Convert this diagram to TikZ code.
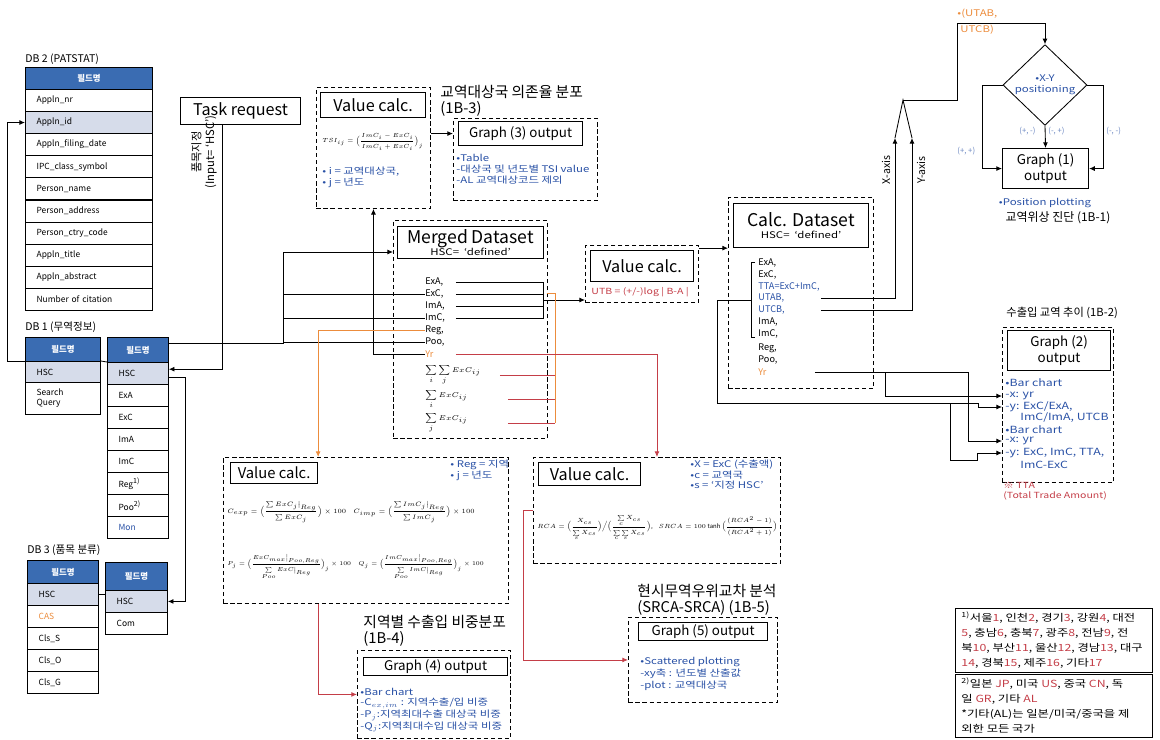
\documentclass[tikz,border=0pt]{standalone}
\usepackage{fontspec}
\usepackage{amsmath}
\usepackage{graphicx}
\setmainfont{Noto Sans CJK KR}
\newfontfamily\wfont[FakeStretch=1.25]{Noto Sans CJK KR}
\usetikzlibrary{shapes.geometric,arrows.meta}
\definecolor{hdrblue}{RGB}{58,108,178}
\definecolor{hiblue}{RGB}{214,220,234}
\definecolor{txtblue}{RGB}{40,80,165}
\definecolor{ornge}{RGB}{236,140,60}
\definecolor{redln}{RGB}{196,62,72}
\newcommand{\fbig}{\fontsize{11.5}{12.5}\selectfont}
\newcommand{\fds}{\fontsize{12.5}{13.5}\selectfont}
\newcommand{\fgr}{\fontsize{9.5}{11}\selectfont}
\newcommand{\fttl}{\fontsize{10.5}{11}\selectfont}
\newcommand{\fdb}{\fontsize{7.5}{9}\selectfont}
\newcommand{\fcell}{\fontsize{6}{7}\selectfont}
\newcommand{\fnote}{\wfont\fontsize{6.5}{8}\selectfont}
\newcommand{\fgtwo}{\wfont\fontsize{7}{8}\selectfont}
\newcommand{\fitem}{\fontsize{6.5}{7.5}\selectfont}
\newcommand{\fmath}{\fontsize{5}{6}\selectfont}
\newcommand{\fform}{\fontsize{5}{6}\selectfont}
\newcommand{\fnb}{\wfont\fontsize{7}{10.6}\selectfont}
\newcommand{\rn}[1]{\textcolor{redln}{#1}}
\newcommand{\shrink}[2][0.85]{\scalebox{#1}{#2}}
\begin{document}
\begin{tikzpicture}[
    x=0.025cm, y=-0.025cm,
    line width=0.6pt,
    hdr/.style={draw, fill=hdrblue, text=white, font=\fcell\bfseries, anchor=north west, inner sep=0pt},
    cell/.style={draw, fill=white, font=\fcell, anchor=north west, inner xsep=0.28cm, inner ysep=0pt, text width=#1, align=left, minimum height=0.55cm},
    dbox/.style={draw, dash pattern=on 3pt off 2pt, anchor=north west, inner sep=0pt},
    sbox/.style={draw, line width=0.8pt, anchor=north west, inner sep=0pt, align=center},
    ttl/.style={font=\fttl, anchor=north west, inner sep=0pt, align=left},
    note/.style={font=\fnote, text=txtblue, anchor=west, inner sep=0pt, align=left},
    gnote/.style={note, font=\fgtwo},
    quad/.style={font=\fontsize{5.5}{6}\selectfont, text=txtblue!70, anchor=west, inner sep=0pt},
    item/.style={font=\fitem, anchor=west, inner sep=0pt, text width=#1},
    item/.default=0.75cm,
    frm/.style={font=\fform, anchor=west, inner sep=0pt},
    arr/.style={-{Latex[length=4pt,width=3.5pt]}},
]
\useasboundingbox (0,0) rectangle (1160,739);

% DB 2 (PATSTAT)
\node[font=\fdb, anchor=west, inner sep=0pt] (db2t) at (25,59) {DB 2 (PATSTAT)};
\node[hdr, minimum width=3.175cm, minimum height=0.55cm] (pathd) at (25,67) {필드명};
\foreach \lbl/\fc [count=\i from 0] in {Appln\_nr/white, Appln\_id/hiblue, Appln\_filing\_date/white, IPC\_class\_symbol/white, Person\_name/white, Person\_address/white, Person\_ctry\_code/white, Appln\_title/white, Appln\_abstract/white, Number of citation/white}
  \node[cell=2.615cm, fill=\fc] (pat\i) at (25,{89+22.1*\i}) {\lbl};

% DB 1 (trade data)
\node[font=\fdb, anchor=west, inner sep=0pt] (db1t) at (25,327) {DB 1 (무역정보)};
\node[hdr, minimum width=1.875cm, minimum height=0.6cm] (lhd) at (25,337) {필드명};
\node[cell=1.315cm, fill=hiblue, minimum height=0.525cm] (lhsc) at (25,361) {HSC};
\node[cell=1.315cm, minimum height=0.8cm] (lsq) at (25,382) {Search\\Query};
\node[hdr, minimum width=1.525cm, minimum height=0.625cm] (rhd) at (107,337) {필드명};
\foreach \lbl/\fc [count=\i from 0] in {HSC/hiblue, ExA/white, ExC/white, ImA/white, ImC/white, Reg\textsuperscript{1)}/white, Poo\textsuperscript{2)}/white, \textcolor{txtblue}{Mon}/white}
  \node[cell=0.965cm, fill=\fc] (tr\i) at (107,{362+22*\i}) {\lbl};

% DB 3 (item classes)
\node[font=\fdb, anchor=west, inner sep=0pt] (db3t) at (27,550) {DB 3 (품목 분류)};
\node[hdr, minimum width=1.775cm, minimum height=0.575cm] (chd) at (27,560) {필드명};
\foreach \lbl/\fc [count=\i from 0] in {HSC/hiblue, \textcolor{ornge}{CAS}/white, Cls\_S/white, Cls\_O/white, Cls\_G/white}
  \node[cell=1.215cm, fill=\fc] (cl\i) at (27,{583+22*\i}) {\lbl};
\node[hdr, minimum width=1.55cm, minimum height=0.7cm] (mhd) at (105,562) {필드명};
\node[cell=0.99cm, fill=hiblue] (cm0) at (105,590) {HSC};
\node[cell=0.99cm] (cm1) at (105,612) {Com};

% Task request
\node[sbox, minimum width=3cm, minimum height=0.675cm, font=\fbig] (task) at (180,97) {Task request};
\node[font=\fontsize{8}{9.5}\selectfont, rotate=90, align=center, inner sep=0pt] (inlbl) at (204,152) {품목지정\\(Input= ‘HSC’)};

% Value calc. (TSI)
\node[dbox, minimum width=2.85cm, minimum height=3.025cm] (vc1) at (316,87) {};
\node[sbox, minimum width=2.625cm, minimum height=0.625cm, font=\fbig] (vc1t) at (320,92) {Value calc.};
\node[frm] (tsi) at (322,142) {\shrink[0.84]{$TSI_{ij}=\Big(\dfrac{ImC_i-ExC_i}{ImC_i+ExC_i}\Big)_j$}};
\node[note] (vc1n1) at (322,172) {• i = 교역대상국,};
\node[note] (vc1n2) at (322,183) {• j = 년도};

% Graph (3)
\node[ttl] (g3ttl) at (440,85) {교역대상국 의존율 분포\\(1B-3)};
\node[dbox, minimum width=3.6cm, minimum height=2.05cm] (g3) at (453,118) {};
\node[sbox, minimum width=3.1cm, minimum height=0.6cm, font=\fgr] (g3t) at (458,121) {Graph (3) output};
\node[note] (g3n1) at (456,158) {•Table};
\node[note] (g3n2) at (456,169) {-대상국 및 년도별 TSI value};
\node[note] (g3n3) at (456,180) {-AL 교역대상코드 제외};

% Merged Dataset
\node[dbox, minimum width=3.85cm, minimum height=5.45cm] (mg) at (393,220) {};
\node[sbox, minimum width=3.65cm, minimum height=0.8cm] (mgt) at (397,226) {{\fds Merged Dataset}\\[-3pt]{\fnote HSC=\ \ ‘defined’}};
\node[item] (exa) at (425,282) {ExA,};
\node[item] (exc) at (425,294) {ExC,};
\node[item] (ima) at (425,306) {ImA,};
\node[item] (imc) at (425,318) {ImC,};
\node[item] (reg) at (425,330) {Reg,};
\node[item] (poo) at (425,342) {Poo,};
\node[item, text=ornge] (yr) at (425,354) {Yr};
\node[item=1.85cm, font=\fmath] (s1) at (425,375) {$\displaystyle\sum_{i}\sum_{j} ExC_{ij}$};
\node[item=2.05cm, font=\fmath] (s2) at (425,399) {$\displaystyle\sum_{i} ExC_{ij}$};
\node[item=2.05cm, font=\fmath] (s3) at (425,423) {$\displaystyle\sum_{j} ExC_{ij}$};

% Value calc. (UTB)
\node[dbox, minimum width=2.825cm, minimum height=1.425cm] (utb) at (585,245) {};
\node[sbox, minimum width=2.575cm, minimum height=0.775cm, font=\fbig] (utbt) at (590,250) {Value calc.};
\node[note, text=redln, font=\wfont\fontsize{6}{7}\selectfont] (utbf) at (591,292) {UTB = (+/-)log | B-A |};

% Calc. Dataset
\node[dbox, minimum width=3.625cm, minimum height=4.775cm] (cd) at (728,197) {};
\node[sbox, minimum width=3.375cm, minimum height=1.1cm] (cdt) at (733,203) {{\fds Calc. Dataset}\\[-3pt]{\fnote HSC=\ \ ‘defined’}};
\node[item] (cexa) at (758,263) {ExA,};
\node[item] (cexc) at (758,275) {ExC,};
\node[item=1.55cm, text=txtblue] (ctta) at (758,287) {TTA=ExC+ImC,};
\node[item=1.55cm, text=txtblue] (cutab) at (758,298) {UTAB,};
\node[item=1.55cm, text=txtblue] (cutcb) at (758,310) {UTCB,};
\node[item] (cima) at (758,322) {ImA,};
\node[item] (cimc) at (758,334) {ImC,};
\node[item] (creg) at (758,348) {Reg,};
\node[item] (cpoo) at (758,360) {Poo,};
\node[item=1.4cm, text=ornge] (cyr) at (758,372) {Yr};

% Graph (1)
\node[diamond, draw, minimum width=2.1cm, minimum height=1.65cm, font=\fnote, text=txtblue, inner sep=0pt, align=center] (xy) at (1045,85) {•X-Y\\positioning};
\node[sbox, minimum width=2.15cm, minimum height=1cm, font=\fgr] (g1t) at (1002,148) {Graph (1)\\output};
\node[note, anchor=center] (g1n) at (1045,203) {•Position plotting};
\node[font=\fontsize{8.5}{9}\selectfont, inner sep=0pt] (g1ttl) at (1058,218) {교역위상 진단 (1B-1)};
\node[note, text=ornge, anchor=north west] (utl1) at (957,9) {•(UTAB,};
\node[note, text=ornge, anchor=north west] (utl2) at (960,25) {UTCB)};
\node[font=\fontsize{7.5}{8}\selectfont, rotate=90, inner sep=0pt] (xax) at (886,170) {X-axis};
\node[font=\fontsize{7.5}{8}\selectfont, rotate=90, inner sep=0pt] (yax) at (921,170) {Y-axis};
\node[quad] (q1) at (957,151) {(+, +)};
\node[quad] (q2) at (1019,131) {(+, -)};
\node[quad] (q3) at (1048,131) {(-, +)};
\node[quad] (q4) at (1106,131) {(-, -)};

% Graph (2)
\node[ttl, font=\fontsize{8}{9}\selectfont] (g2ttl) at (1006,307) {수출입 교역 추이 (1B-2)};
\node[dbox, minimum width=2.775cm, minimum height=3.875cm] (g2) at (1002,327) {};
\node[sbox, minimum width=2.575cm, minimum height=1cm, font=\fgr] (g2t) at (1007,330) {Graph (2)\\output};
\node[gnote] (g2n1) at (1005,383) {•Bar chart};
\node[gnote] (g2x1) at (1005,396) {-x: yr};
\node[gnote] (g2y1) at (1005,407) {-y: ExC/ExA,};
\node[gnote] (g2y1b) at (1020,418) {ImC/ImA, UTCB};
\node[gnote] (g2n2) at (1005,430) {•Bar chart};
\node[gnote] (g2x2) at (1005,441) {-x: yr};
\node[gnote] (g2y2) at (1005,453) {-y: ExC, ImC, TTA,};
\node[gnote] (g2y2b) at (1020,465) {ImC-ExC};
\node[note, text=redln, font=\wfont\fontsize{6}{7}\selectfont] (tta) at (1003,491) {※ TTA\\(Total Trade Amount)};

% Value calc. (regional shares)
\node[dbox, minimum width=7.125cm, minimum height=3.65cm] (bl) at (223,457) {};
\node[sbox, minimum width=2.175cm, minimum height=0.525cm, font=\fontsize{10.5}{11}\selectfont] (blt) at (230,462) {Value calc.};
\node[note] (bln1) at (450,465) {• Reg = 지역};
\node[note] (bln2) at (450,476) {• j = 년도};
\node[frm] (cexp) at (227,512) {\shrink[0.9]{$C_{exp}=\Big(\dfrac{\sum ExC_j\big|_{Reg}}{\sum ExC_j}\Big)\times 100$}};
\node[frm] (cimp) at (353,512) {\shrink[0.9]{$C_{imp}=\Big(\dfrac{\sum ImC_j\big|_{Reg}}{\sum ImC_j}\Big)\times 100$}};
\node[frm] (pj) at (227,567) {\shrink[0.82]{$P_j=\Big(\dfrac{ExC_{max}\big|_{Poo,Reg}}{\sum\limits_{Poo} ExC\big|_{Reg}}\Big)_j\times 100$}};
\node[frm] (qj) at (358,567) {\shrink[0.82]{$Q_j=\Big(\dfrac{ImC_{max}\big|_{Poo,Reg}}{\sum\limits_{Poo} ImC\big|_{Reg}}\Big)_j\times 100$}};

% Graph (4)
\node[ttl] (g4ttl) at (363,615) {지역별 수출입 비중분포\\(1B-4)};
\node[dbox, minimum width=3.825cm, minimum height=2.2cm] (g4) at (357,650) {};
\node[sbox, minimum width=3.6cm, minimum height=0.45cm, font=\fgr] (g4t) at (363,657) {Graph (4) output};
\node[note] (g4n1) at (360,692) {•Bar chart};
\node[note] (g4n2) at (360,703) {-C$_{ex,im}$ : 지역수출/입 비중};
\node[note] (g4n3) at (360,715) {-P$_j$:지역최대수출 대상국 비중};
\node[note] (g4n4) at (360,727) {-Q$_j$:지역최대수입 대상국 비중};

% Value calc. (SRCA)
\node[dbox, minimum width=6.175cm, minimum height=2.65cm] (sr) at (533,457) {};
\node[sbox, minimum width=2.55cm, minimum height=0.575cm, font=\fbig] (srt) at (538,462) {Value calc.};
\node[note] (srn1) at (690,465) {•X = ExC (수출액)};
\node[note] (srn2) at (690,475) {•c = 교역국};
\node[note] (srn3) at (690,485) {•s = ‘지정 HSC’};
\node[frm] (rca) at (537,528) {\shrink{$RCA=\Big(\dfrac{X_{cs}}{\sum\limits_{s} X_{cs}}\Big)\Big/\Big(\dfrac{\sum\limits_{c} X_{cs}}{\sum\limits_{c}\sum\limits_{s} X_{cs}}\Big)$,\quad $SRCA=100\tanh\Big(\dfrac{(RCA^2-1)}{(RCA^2+1)}\Big)$}};

% Graph (5)
\node[ttl] (g5ttl) at (637,584) {현시무역우위교차 분석\\(SRCA-SRCA) (1B-5)};
\node[dbox, minimum width=3.725cm, minimum height=2.125cm] (g5) at (628,617) {};
\node[sbox, minimum width=3.225cm, minimum height=0.45cm, font=\fgr] (g5t) at (638,622) {Graph (5) output};
\node[note] (g5n1) at (640,662) {•Scattered plotting};
\node[note] (g5n2) at (640,674) {-xy축 : 년도별 산출값};
\node[note] (g5n3) at (640,686) {-plot : 교역대상국};

% Footnote boxes
\node[draw, anchor=north west, minimum width=4.925cm, minimum height=1.6cm] (nb1) at (955,608) {};
\node[font=\fnb, anchor=north west, align=left, inner sep=0pt] (nb1t) at (961,611) {\textsuperscript{1)}서울\rn{1}, 인천\rn{2}, 경기\rn{3}, 강원\rn{4}, 대전\\\rn{5}, 충남\rn{6}, 충북\rn{7}, 광주\rn{8}, 전남\rn{9}, 전\\북\rn{10}, 부산\rn{11}, 울산\rn{12}, 경남\rn{13}, 대구\\\rn{14}, 경북\rn{15}, 제주\rn{16}, 기타\rn{17}};
\node[draw, anchor=north west, minimum width=4.925cm, minimum height=1.575cm] (nb2) at (955,674) {};
\node[font=\fnb, anchor=north west, align=left, inner sep=0pt] (nb2t) at (961,677) {\textsuperscript{2)}일본 \rn{JP}, 미국 \rn{US}, 중국 \rn{CN}, 독\\일 \rn{GR}, 기타 \rn{AL}\\*기타(AL)는 일본/미국/중국을 제\\외한 모든 국가};

% Junctions
\coordinate (bus) at (283,252);
\coordinate (brk) at (543,300);
\coordinate (obus) at (555,293);
\coordinate (cbm) at (751,300);
\coordinate (yb) at (978,403);
\coordinate (yb2) at (950,403);
\coordinate (yrb) at (885,372);
\coordinate (yrd) at (968,441);
\coordinate (xtip) at (895,138);
\coordinate (ytip) at (912,138);
\coordinate (apex) at (903,100);
\coordinate (ut) at (957,23);

% DB links
\draw[arr] (lhsc.north west) -- ++(-18,0) |- (pat1.west);
\draw (lhsc.north east) -- (tr0.north west);
\draw (cl0.east) -- (cl0.east -| cm0.west);
\draw[arr] ([yshift=-3pt]tr0.east) -- ++(17,0) |- (cm0.east);
\draw[arr] ([xshift=-12.8pt]task.south) |- ([yshift=3pt]tr0.east);
\draw[arr] ([yshift=4.6pt]rhd.east) -| (bus) -- (bus -| mg.west);
\draw (bus |- exc.west) -- (exc.west);
\draw (bus |- imc.west) -- (imc.west);
\draw (bus |- poo.west) -- (poo.west);

% Merged Dataset outputs
\draw[arr] (yr.west) -| (vc1.south);
\draw[arr, ornge] (reg.west) -| (bl.north -| blt.east);
\draw[arr] (vc1.east |- g3t.west) -- (g3t.west -| g3.west);
\foreach \n in {exa,exc,ima,imc} \draw (\n.east) -| (brk);
\draw[arr] (brk) -- (brk -| utb.west);
\draw[ornge] ([xshift=-6pt]obus) -- (obus) -- (obus |- s3.east);
\foreach \n in {s1,s2,s3} \draw[redln] (\n.east) -- (\n.east -| obus);
\draw[arr, redln] (yr.east) -| (sr.north);
\draw[arr, redln] (bl.south -| blt.east) |- (g4.west);
\draw[arr, redln] (sr.west) -- ++(-10,0) |- (g5.west);
\draw[arr] (utb.north east |- cdt.south) -- (cdt.south -| cd.west);

% Calc. Dataset outputs
\draw (cbm) ++(4,-38) -- ++(-4,0) -- ++(0,75) -- ++(4,0);
\draw[arr] (cbm) -- ++(-34,0) |- (yb) |- (g2y1.west -| g2.west);
\draw[arr] (yb2) |- ++(27,57) |- (g2y2.west -| g2.west);
\draw[arr] (cyr.east) -| (yrd) -- (g2x2.west -| g2.west);
\draw[arr] (yrb) |- (g2x1.west -| g2.west);
\draw[arr] (cutab.east) -| (xtip);
\draw[arr] (cutcb.east) -| (ytip);
\draw (xtip) -- (apex) -- (ytip);
\draw[arr] (apex) -| (ut) -| (xy.north);

% Graph (1) branches
\draw[arr] (xy.west) -- ++(-20,0) |- (g1t.west);
\draw[arr] (xy.east) -- ++(16,0) |- (g1t.east);
\draw[arr] (xy.south) -- (g1t.north);
\end{tikzpicture}
\end{document}
